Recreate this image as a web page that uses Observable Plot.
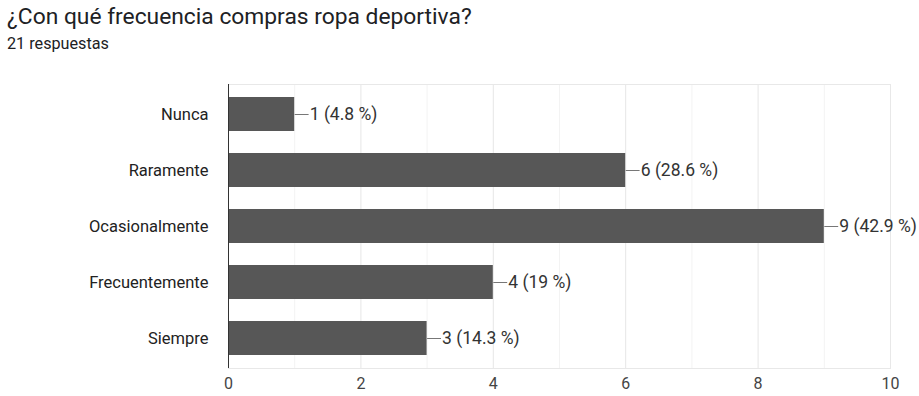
<!DOCTYPE html>
<html><head><meta charset="utf-8">
<script src="https://cdn.jsdelivr.net/npm/d3@7"></script>
<script src="https://cdn.jsdelivr.net/npm/@observablehq/plot@0.6"></script>
<style>
body{margin:0;background:#fff;font-family:Roboto,sans-serif;}
#wrap{position:relative;width:919px;height:396px;}
#title{position:absolute;left:7px;top:3px;font-size:22.8px;color:#202124;white-space:nowrap;}
#sub{position:absolute;left:7px;top:34px;font-size:16.2px;color:#202124;white-space:nowrap;}
#chart{position:absolute;left:0;top:0;}
</style></head>
<body>
<div id="wrap">
<div id="chart"></div>
<div id="title">¿Con qué frecuencia compras ropa deportiva?</div>
<div id="sub">21 respuestas</div>
</div>
<script>
const categories = ["Nunca","Raramente","Ocasionalmente","Frecuentemente","Siempre"];
const counts = [1,6,9,4,3];
const labels = ["1 (4.8 %)","6 (28.6 %)","9 (42.9 %)","4 (19 %)","3 (14.3 %)"];
const xTicks = [0,2,4,6,8,10];
const minorTicks = [1,3,5,7,9];

const data = categories.map((c,i)=>({cat:c, v:counts[i], label:labels[i]}));

const plot = Plot.plot({
  width: 919, height: 396,
  marginLeft: 228, marginRight: 29, marginTop: 84, marginBottom: 28,
  style:{fontFamily:"Roboto, sans-serif", background:"#fff", fontSize:"16px"},
  x:{domain:[0,10], ticks:xTicks, label:null},
  y:{domain:categories, paddingInner:0.39, paddingOuter:0.195, label:null},
  marks:[
    Plot.ruleX(minorTicks,{stroke:"#f3f3f3"}),
    Plot.ruleX(xTicks,{stroke:"#e6e6e6"}),
    Plot.frame({stroke:"#e8e8e8"}),
    Plot.barX(data,{y:"cat", x:"v", fill:"#575757"}),
    Plot.link(data,{x1:"v", x2:d=>d.v+0.21, y1:"cat", y2:"cat", stroke:"#777", strokeWidth:1}),
    Plot.text(data,{x:"v", y:"cat", text:"label", dx:15, textAnchor:"start", fontSize:17.5, fill:"#333"}),
    Plot.ruleX([0],{stroke:"#333", strokeWidth:1}),
    Plot.axisX({ticks:xTicks, tickSize:0, tickPadding:9, fontSize:16, color:"#444", label:null}),
    Plot.axisY({tickSize:0, tickPadding:20, fontSize:16.5, color:"#222", label:null})
  ]
});
document.getElementById("chart").appendChild(plot);
</script>
</body></html>
